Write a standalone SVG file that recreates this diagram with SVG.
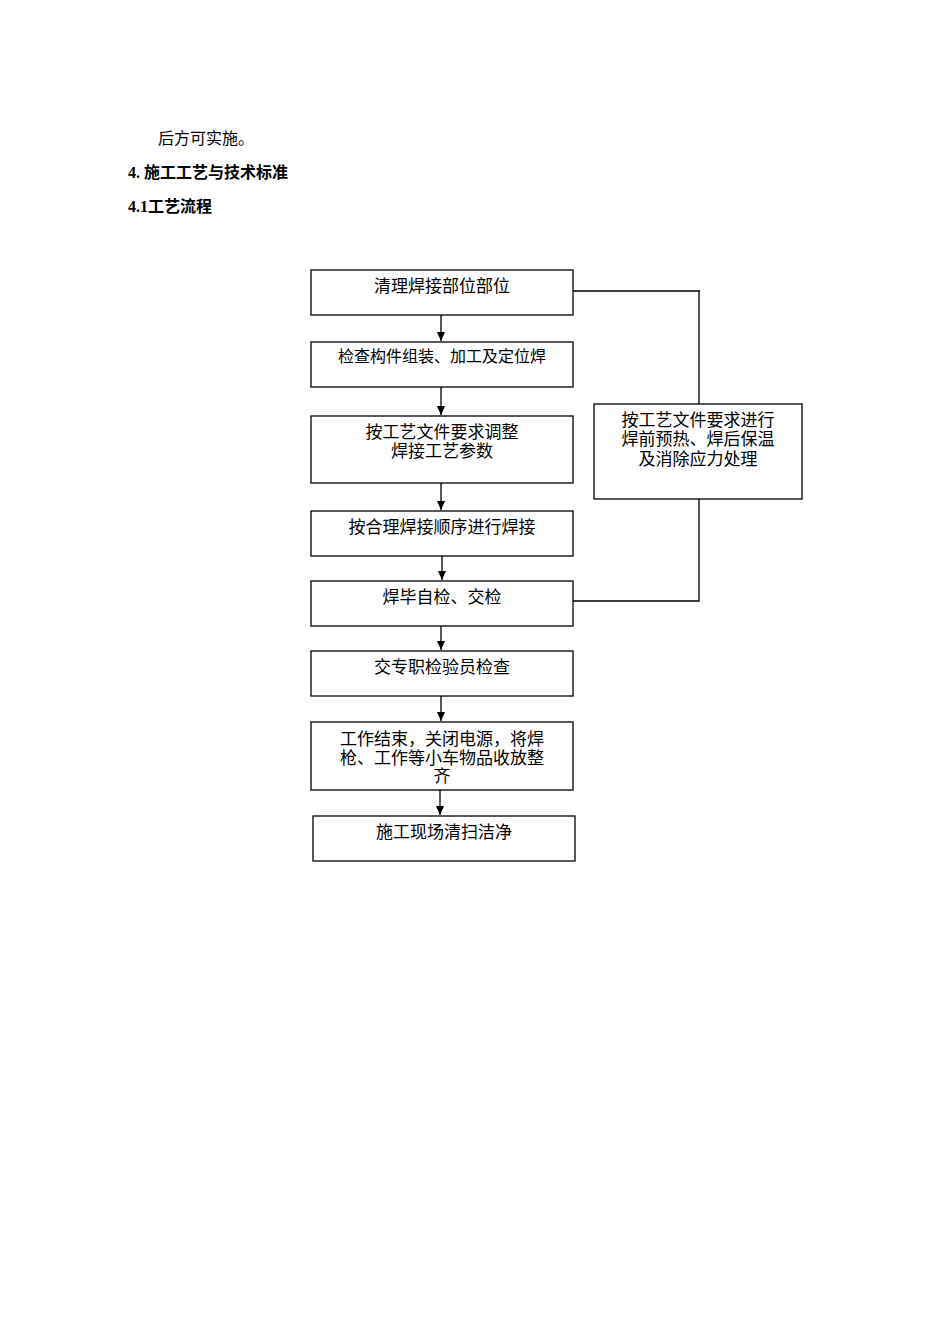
<svg xmlns="http://www.w3.org/2000/svg" width="950" height="1344" viewBox="0 0 950 1344">
<style>
text{font-family:"Liberation Serif","Noto Sans CJK SC",serif;font-size:17px;fill:#000}
.h{font-weight:bold;font-size:16px}
.c{text-anchor:middle}
rect{fill:#fff;stroke:#000;stroke-width:1.3}
.l{stroke:#000;stroke-width:1.3;fill:none}
</style>
<defs><marker id="a" markerWidth="10" markerHeight="10" refX="9" refY="5" orient="auto" markerUnits="userSpaceOnUse"><path d="M0,1 L9,5 L0,9 Z" fill="#000"/></marker></defs>
<text x="158" y="144" style="font-size:16px">后方可实施。</text>
<text x="128" y="178" class="h">4. 施工工艺与技术标准</text>
<text x="128" y="212" class="h">4.1工艺流程</text>
<g id="n1"><rect x="311" y="270" width="262" height="45"/><text x="442" y="292" class="c">清理焊接部位部位</text></g>
<g id="n2"><rect x="311" y="342" width="262" height="45"/><text x="442" y="362" class="c" style="font-size:16px">检查构件组装、加工及定位焊</text></g>
<g id="n3"><rect x="311" y="416" width="262" height="67"/><text x="442" y="438" class="c">按工艺文件要求调整</text><text x="442" y="457" class="c">焊接工艺参数</text></g>
<g id="n4"><rect x="311" y="511" width="262" height="45"/><text x="442" y="533" class="c">按合理焊接顺序进行焊接</text></g>
<g id="n5"><rect x="311" y="581" width="262" height="45"/><text x="442" y="603" class="c">焊毕自检、交检</text></g>
<g id="n6"><rect x="311" y="651" width="262" height="45"/><text x="442" y="673" class="c">交专职检验员检查</text></g>
<g id="n7"><rect x="311" y="722" width="262" height="68"/><text x="442" y="745" class="c">工作结束，关闭电源，将焊</text><text x="442" y="764" class="c">枪、工作等小车物品收放整</text><text x="442" y="782" class="c">齐</text></g>
<g id="n8"><rect x="313" y="816" width="262" height="45"/><text x="444" y="838" class="c">施工现场清扫洁净</text></g>
<g id="n9"><rect x="594" y="404" width="208" height="95"/><text x="698" y="426" class="c">按工艺文件要求进行</text><text x="698" y="445" class="c">焊前预热、焊后保温</text><text x="698" y="465" class="c">及消除应力处理</text></g>
<g id="connectors">
<path class="l" d="M441,315 V341" marker-end="url(#a)"/>
<path class="l" d="M441,387 V415" marker-end="url(#a)"/>
<path class="l" d="M441,483 V510" marker-end="url(#a)"/>
<path class="l" d="M442,556 V580" marker-end="url(#a)"/>
<path class="l" d="M441,626 V650" marker-end="url(#a)"/>
<path class="l" d="M441,696 V721" marker-end="url(#a)"/>
<path class="l" d="M440,790 V815" marker-end="url(#a)"/>
<path class="l" d="M573,291 H700 M699,291 V404"/>
<path class="l" d="M699,499 V601 H573"/>
</g>
</svg>
